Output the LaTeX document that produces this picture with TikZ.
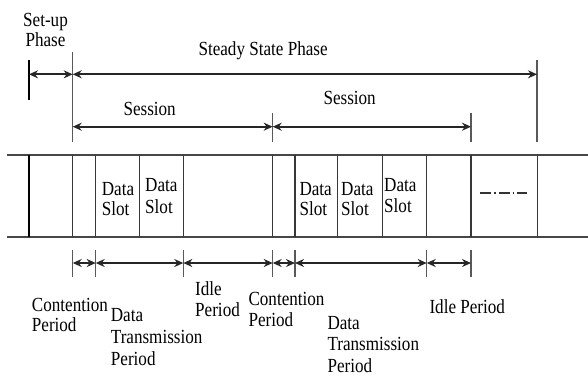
\documentclass[tikz,border=0pt]{standalone}
\usepackage{fontspec}
\setmainfont{Liberation Serif}[FakeStretch=0.855]
\usetikzlibrary{arrows.meta}
\begin{document}
\begin{tikzpicture}[x=1pt,y=-1pt,
  lbl/.style={font=\fontsize{20}{21}\selectfont, inner sep=0pt, anchor=base west, align=left},
  lblc/.style={lbl, anchor=base, align=center},
  band/.style={line width=1.4pt, draw=black!72},
  slot/.style={line width=1.3pt, draw=black!78},
  tick/.style={line width=1.2pt, draw=black!65},
  dim/.style={line width=2.1pt, draw=black!85,
    {Stealth[length=9pt,width=8pt]}-{Stealth[length=9pt,width=8pt]}},
]
\useasboundingbox (0,0) rectangle (588,376);

% slot boundaries along the time axis
\foreach \n/\x in {a/29,b/72.7,c/95.7,d/139.3,e/183.3,f/272.7,g/295,h/337.7,i/382.3,j/426.7,k/471,l/537.5}{
  \coordinate (T\n) at (\x,155);
  \coordinate (B\n) at (\x,237);
}

% frame band
\draw[band] (7,155) -- (588,155);
\draw[band] (7,237) -- (588,237);
\draw[line width=2.4pt] (Ta) -- (Ba);
\foreach \n in {b,c,d,e,f,g,h,i,j,k,l}{
  \draw[slot] (T\n) -- (B\n);
}

% continuation mark
\coordinate (cont1) at (480,193);
\coordinate (cont2) at (527,193);
\draw[line width=2pt, draw=black!80, dash pattern=on 11pt off 3pt on 1.5pt off 3pt] (cont1) -- (cont2);

% phase markers
\coordinate (pa1) at (29,60);   \coordinate (pa2) at (29,100);
\coordinate (pb1) at (72.7,52); \coordinate (pb2) at (72.7,142);
\coordinate (pl1) at (537,60);  \coordinate (pl2) at (537,142);
\coordinate (sf1) at (272.7,113); \coordinate (sf2) at (272.7,142);
\coordinate (sk1) at (471,113);   \coordinate (sk2) at (471,142);
\draw[line width=2.2pt] (pa1) -- (pa2);
\draw[tick] (pb1) -- (pb2);
\draw[tick] (pl1) -- (pl2);
\draw[tick] (sf1) -- (sf2);
\draw[tick] (sk1) -- (sk2);

\coordinate (ya) at (29,74.3);
\coordinate (yb) at (72.7,74.3);
\coordinate (yl) at (537,74.3);
\draw[dim] (ya) -- (yb);
\draw[dim] (yb) -- (yl);

\coordinate (sb) at (72.7,126.7);
\coordinate (sf) at (272.7,126.7);
\coordinate (sk) at (471,126.7);
\draw[dim] (sb) -- (sf);
\draw[dim] (sf) -- (sk);

% period markers below the band
\foreach \n/\x in {b/72.7,c/95.7,e/183.3,f/272.7,g/295,j/426.7,k/471}{
  \coordinate (U\n) at (\x,250);
  \coordinate (V\n) at (\x,277);
  \coordinate (M\n) at (\x,263);
  \draw[tick] (U\n) -- (V\n);
}
\draw[dim] (Mb) -- (Mc);
\draw[dim] (Mc) -- (Me);
\draw[dim] (Me) -- (Mf);
\draw[dim] (Mf) -- (Mg);
\draw[dim] (Mg) -- (Mj);
\draw[dim] (Mj) -- (Mk);

% labels (multi-line labels are placed by their last baseline)
\node[lblc, font=\fontsize{20}{20}\selectfont] (setup) at (45.5,46.7) {Set-up\\Phase};
\node[lbl] (steady) at (198.3,55) {Steady State Phase};
\node[lbl] (sess1) at (123.3,115.5) {Session};
\node[lbl] (sess2) at (323.3,104) {Session};

\node[lbl, font=\fontsize{20}{20}\selectfont] (ds1) at (101.7,215) {Data\\Slot};
\node[lbl, font=\fontsize{20}{21.5}\selectfont] (ds2) at (145,213.3) {Data\\Slot};
\node[lbl, font=\fontsize{20}{19.5}\selectfont] (ds3) at (299.3,215) {Data\\Slot};
\node[lbl, font=\fontsize{20}{19.5}\selectfont] (ds4) at (341,215) {Data\\Slot};
\node[lbl, font=\fontsize{20}{21}\selectfont] (ds5) at (384,212.7) {Data\\Slot};

\node[lbl, font=\fontsize{20}{20}\selectfont] (cp1) at (31.7,331.7) {Contention\\Period};
\node[lbl, font=\fontsize{20}{21.7}\selectfont] (dt1) at (110.7,365) {Data\\Transmission\\Period};
\node[lbl, font=\fontsize{20}{21.7}\selectfont] (ip1) at (195,316.7) {Idle\\Period};
\node[lbl, font=\fontsize{20}{21}\selectfont] (cp2) at (248.3,326) {Contention\\Period};
\node[lbl, font=\fontsize{20}{21.5}\selectfont] (dt2) at (327.3,372.3) {Data\\Transmission\\Period};
\node[lbl] (ip2) at (429.3,313.3) {Idle Period};
\end{tikzpicture}
\end{document}
